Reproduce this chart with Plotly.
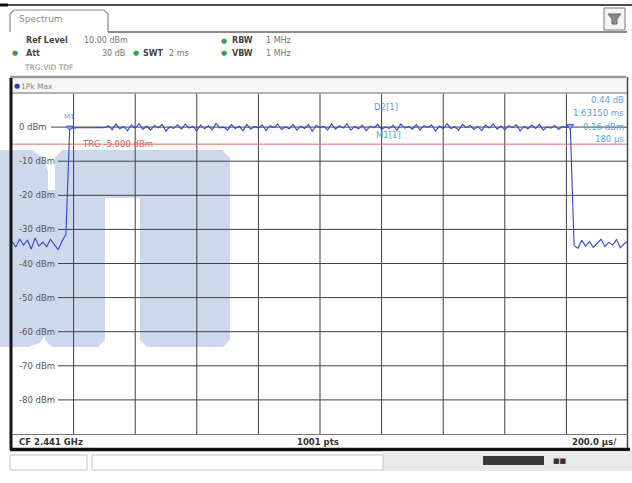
import plotly.graph_objects as go

# ---------------- data ----------------
SWEEP_MS = 2.0          # 10 div x 200 us
N_SHOWN = 161           # points drawn (sweep grid)
time_ms = [i * SWEEP_MS / (N_SHOWN - 1) for i in range(N_SHOWN)]

level_off_left = [-33.5, -35.2, -32.8, -34.6, -33.1, -35.8, -32.5, -34.9, -33.7, -35.1,
                  -32.9, -34.3, -36.0, -33.4, -31.5]
level_on = [-0.16, -0.3, -0.2, -0.25, -0.15, -0.3, -0.2, -0.1, -0.25, -0.2,
            0.4, -0.8, 0.9, -0.5, 0.2, -1.1, 0.6, -0.3, 1.0, -0.7,
            0.3, -0.9, 0.5, -0.2, 0.8, -1.2, 0.1, -0.4, 0.7, -0.6,
            0.9, -0.3, 0.2, -1.0, 0.6, -0.5, 0.4, -0.8, 1.1, -0.2,
            0.0, -0.9, 0.7, -0.4, 0.3, -1.1, 0.8, -0.6, 0.2, -0.3,
            0.6, -1.0, 0.4, -0.2, 0.9, -0.7, 0.1, -0.5, 0.8, -0.9,
            0.3, -0.4, 0.7, -1.2, 0.5, -0.1, 0.2, -0.8, 0.9, -0.6,
            0.4, -0.3, 1.0, -0.9, 0.2, -0.5, 0.6, -1.1, 0.3, -0.2,
            0.8, -0.7, 0.1, -0.4, 0.5, -1.0, 0.9, -0.3, 0.2, -0.6,
            0.7, -0.8, 0.4, -0.1, 0.6, -1.2, 0.3, -0.5, 1.0, -0.4,
            0.1, -0.9, 0.8, -0.2, 0.5, -0.7, 0.2, -1.0, 0.6, -0.3,
            0.9, -0.6, 0.3, -0.8, 0.4, -0.1, 0.7, -1.1, 0.2, -0.5,
            0.6, -0.4, 0.8, -0.9, 0.1, -0.3, 0.5, -0.7, 0.2, -0.2,
            0.28]
level_off_right = [-34.8, -35.5, -33.2, -34.9, -33.6, -35.3, -34.1, -32.9, -35.0, -33.8,
                   -34.6, -33.0, -35.4, -34.2, -33.5]
level_dbm = level_off_left + level_on + level_off_right

y_ticks = [0, -10, -20, -30, -40, -50, -60, -70, -80]
y_tick_labels = ["0 dBm", "-10 dBm", "-20 dBm", "-30 dBm", "-40 dBm",
                 "-50 dBm", "-60 dBm", "-70 dBm", "-80 dBm"]
x_grid_ms = [0.2, 0.4, 0.6, 0.8, 1.0, 1.2, 1.4, 1.6, 1.8]
trg_level = -5.0
m1_index = 15
d2_index = 145

W, H = 632, 483
L, R, T, B = 12, 628, 93, 434
def PX(x):
    return (x - L) / (R - L)
def PY(y):
    return (B - y) / (B - T)
def px2ms(x):
    return (x - L) / (R - L) * SWEEP_MS

FONT = "DejaVu Sans"
TRACE = "#3246d2"
LBLUE = "#5aa2e6"
GRID = "#404040"

fig = go.Figure()
fig.add_trace(go.Scatter(x=time_ms, y=level_dbm, mode="lines",
                         line=dict(color=TRACE, width=1.1), hoverinfo="skip"))
fig.add_trace(go.Scatter(x=[time_ms[m1_index], time_ms[d2_index]],
                         y=[level_dbm[m1_index], level_dbm[d2_index]],
                         mode="markers",
                         marker=dict(symbol="triangle-down", size=6, color="#7fb4ee",
                                     line=dict(color="#2b5fc0", width=1)),
                         hoverinfo="skip"))

shapes = []
ann = []

# watermark (light blue logo shapes, behind grid)
WM = "#cdd8ec"
def ppath(pts):
    return "M " + " L ".join(f"{PX(x):.4f},{PY(y):.4f}" for x, y in pts) + " Z"
wm_polys = [
    [(-30, 150), (32, 150), (44, 158), (48, 172), (48, 330), (40, 343), (28, 347), (-30, 347)],
    [(62, 150), (222, 150), (230, 158), (230, 198), (58, 198), (55, 190), (55, 158)],
    [(45, 190), (105, 190), (105, 340), (98, 347), (52, 347), (45, 340)],
    [(140, 190), (230, 190), (230, 340), (223, 347), (147, 347), (140, 340)],
]
for poly in wm_polys:
    shapes.append(dict(type="path", xref="paper", yref="paper", path=ppath(poly),
                       fillcolor=WM, line=dict(width=0), layer="below"))

# horizontal grid lines (start after the level label)
label_end_px = [51, 58, 58, 58, 58, 58, 58, 58, 58]
for yv, xe in zip(y_ticks, label_end_px):
    shapes.append(dict(type="line", xref="x", yref="y", x0=px2ms(xe), x1=SWEEP_MS,
                       y0=yv, y1=yv, line=dict(color=GRID, width=1), layer="between"))
for xv in x_grid_ms:
    shapes.append(dict(type="line", xref="x", yref="y", x0=xv, x1=xv, y0=-90, y1=10,
                       line=dict(color=GRID, width=1), layer="between"))
# trigger line
shapes.append(dict(type="line", xref="x", yref="y", x0=0, x1=SWEEP_MS, y0=trg_level,
                   y1=trg_level, line=dict(color="#e46a6a", width=1), layer="between"))

for yv, txt in zip(y_ticks, y_tick_labels):
    ann.append(dict(xref="paper", yref="y", x=PX(17), y=yv, text=txt, showarrow=False,
                    xanchor="left", yanchor="middle",
                    font=dict(family=FONT, size=8.5, color="#555555")))
ann.append(dict(xref="paper", yref="y", x=PX(80), y=trg_level, text="TRG -5.000 dBm",
                showarrow=False, xanchor="left", yanchor="middle",
                font=dict(family=FONT, size=8.5, color="#e05a5a")))

# marker labels
ann.append(dict(xref="x", yref="y", x=time_ms[m1_index], y=level_dbm[m1_index], text="M1",
                showarrow=False, yshift=11, font=dict(family=FONT, size=7, color=LBLUE)))
ann.append(dict(xref="paper", yref="paper", x=PX(386), y=PY(100), text="D2[1]",
                showarrow=False, xanchor="center",
                font=dict(family=FONT, size=8.5, color=LBLUE)))
ann.append(dict(xref="paper", yref="paper", x=PX(388), y=PY(128), text="M1[1]",
                showarrow=False, xanchor="center",
                font=dict(family=FONT, size=8.5, color=LBLUE)))
for ty, txt in [(100, "0.44 dB"), (113, "1.63150 ms"), (127, "-0.16 dBm"), (139, "180 µs")]:
    ann.append(dict(xref="paper", yref="paper", x=PX(626), y=PY(ty), text=txt,
                    showarrow=False, xanchor="right", yanchor="middle",
                    font=dict(family=FONT, size=8.5, color=LBLUE)))

# ---- instrument frame decorations (paper coords) ----
def line_px(x0, y0, x1, y1, color, width):
    shapes.append(dict(type="line", xref="paper", yref="paper", x0=PX(x0), y0=PY(y0),
                       x1=PX(x1), y1=PY(y1), line=dict(color=color, width=width)))
def rect_px(x0, y0, x1, y1, fill, lc=None, lw=0):
    shapes.append(dict(type="rect", xref="paper", yref="paper", x0=PX(x0), y0=PY(y0),
                       x1=PX(x1), y1=PY(y1), fillcolor=fill,
                       line=dict(color=lc or fill, width=lw)))
def text_px(x, y, txt, size=8.5, color="#555555", anchor="left", bold=False):
    if bold:
        txt = "<b>" + txt + "</b>"
    ann.append(dict(xref="paper", yref="paper", x=PX(x), y=PY(y), text=txt,
                    showarrow=False, xanchor=anchor, yanchor="middle",
                    font=dict(family=FONT, size=size, color=color)))

# top line
line_px(0, 5, 632, 5, "#111111", 1.5)
line_px(0, 5, 8, 5, "#111111", 3)
# spectrum tab
tab = [(10, 32), (10, 14), (14, 10), (104, 10), (108, 14), (108, 32)]
shapes.append(dict(type="path", xref="paper", yref="paper",
                   path="M " + " L ".join(f"{PX(x):.4f},{PY(y):.4f}" for x, y in tab),
                   line=dict(color="#8a8a8a", width=1.2)))
line_px(108, 32, 627, 32, "#8a8a8a", 2)
text_px(17, 19, "Spectrum", size=9, color="#8c8c8c")
# icon top right
rect_px(604, 8, 625, 30, "#f4f4f4", "#7a7a7a", 1)
shapes.append(dict(type="path", xref="paper", yref="paper",
                   path=ppath([(608, 14), (621, 14), (617, 19), (617, 24), (612, 24), (612, 19)]),
                   fillcolor="#8a8a8a", line=dict(color="#666666", width=1)))

# header texts
GREEN = "#3aa04a"
text_px(24, 41, "Ref Level", size=8, color="#444444", bold=True)
text_px(82, 41, "10.00 dBm", size=8, color="#777777")
text_px(219, 41, "●", size=7, color=GREEN)
text_px(230, 41, "RBW", size=8, color="#444444", bold=True)
text_px(264, 41, "1 MHz", size=8, color="#777777")
text_px(10, 53, "●", size=7, color=GREEN)
text_px(24, 53, "Att", size=8, color="#444444", bold=True)
text_px(127, 53, "30 dB", size=8, color="#777777", anchor="right")
text_px(131, 53, "●", size=7, color=GREEN)
text_px(141, 53, "SWT", size=8, color="#444444", bold=True)
text_px(167, 53, "2 ms", size=8, color="#777777")
text_px(219, 53, "●", size=7, color=GREEN)
text_px(230, 53, "VBW", size=8, color="#444444", bold=True)
text_px(264, 53, "1 MHz", size=8, color="#777777")
text_px(22, 67, "TRG:VID TDF", size=7.5, color="#8a8a8a")

# trace header band
line_px(10, 77, 626, 77, "#9a9a9a", 2.5)
rect_px(12, 79, 626, 92, "#f6f6f6")
text_px(12, 86, "●", size=7, color="#2a3cc0")
text_px(19, 86, "1Pk Max", size=7.5, color="#888888")
line_px(12, 93, 628, 93, "#9a9a9a", 1.5)
line_px(627.5, 77, 627.5, 448, "#444444", 1.5)
# left thick border
line_px(11, 78, 11, 450, "#151515", 3)
# bottom row
line_px(12, 434.5, 628, 434.5, "#777777", 1)
text_px(17, 442, "CF 2.441 GHz", size=8.5, color="#333333", bold=True)
text_px(318, 442, "1001 pts", size=8.5, color="#333333", anchor="center", bold=True)
text_px(619, 442, "200.0 µs/", size=8.5, color="#333333", anchor="right", bold=True)
line_px(10, 449.5, 630, 449.5, "#111111", 3.5)
# status bar
rect_px(383, 451, 632, 471, "#e9e9e9")
rect_px(10, 455, 87, 470, "#ffffff", "#c4c4c4", 1)
rect_px(92, 455, 383, 470, "#ffffff", "#c4c4c4", 1)
rect_px(483, 456, 544, 465, "#3a3a3a")
text_px(551, 461, "■■", size=7, color="#333333")

fig.update_layout(
    width=W, height=H,
    margin=dict(l=L, r=W - R, t=T, b=H - B, pad=0),
    paper_bgcolor="white", plot_bgcolor="white",
    showlegend=False,
    xaxis=dict(range=[0, SWEEP_MS], showgrid=False, zeroline=False, showticklabels=False,
               ticks="", showline=False, fixedrange=True),
    yaxis=dict(range=[-90, 10], showgrid=False, zeroline=False, showticklabels=False,
               ticks="", showline=False, fixedrange=True),
    shapes=shapes, annotations=ann,
)
fig.write_html("out.html", config={"displayModeBar": False},
               post_script="document.body.style.margin='0';document.body.style.overflow='hidden';")
